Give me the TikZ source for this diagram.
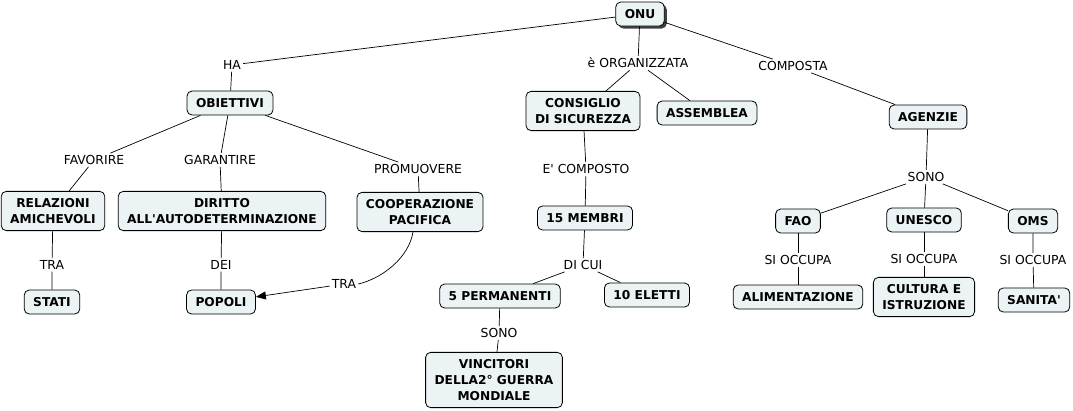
\documentclass[tikz,border=0pt]{standalone}
\usepackage{fontspec}
\setmainfont{DejaVu Sans}[Ligatures=TeXOff]
\usetikzlibrary{arrows.meta,shadows}
\definecolor{boxfill}{RGB}{236,243,245}
\tikzset{
  concept/.style={draw=black, fill=boxfill, rounded corners=5pt, line width=0.8pt,
    inner xsep=9pt, inner ysep=7pt, minimum height=24pt, align=center,
    font=\fontsize{12.2}{16}\selectfont\bfseries},
  lbl/.style={inner sep=2pt, font=\fontsize{12.4}{14}\selectfont},
  link/.style={draw=black, line width=0.7pt},
}
\begin{document}
\begin{tikzpicture}[x=1pt,y=-1pt]
\useasboundingbox (0,0) rectangle (1073,410);
% concepts
\node[concept, drop shadow={shadow xshift=2.5pt, shadow yshift=-2.5pt, fill=black!75, opacity=1}] (onu) at (640,14) {ONU};
\node[concept] (obiettivi) at (230,103) {OBIETTIVI};
\node[concept] (consiglio) at (583,111) {CONSIGLIO\\DI SICUREZZA};
\node[concept] (assemblea) at (707,113) {ASSEMBLEA};
\node[concept] (agenzie) at (928,117) {AGENZIE};
\node[concept] (relazioni) at (53,211) {RELAZIONI\\AMICHEVOLI};
\node[concept] (diritto) at (222,211) {DIRITTO\\ALL'AUTODETERMINAZIONE};
\node[concept] (coop) at (420,212) {COOPERAZIONE\\PACIFICA};
\node[concept] (membri) at (585,218) {15 MEMBRI};
\node[concept] (fao) at (798,221) {FAO};
\node[concept] (unesco) at (924,220) {UNESCO};
\node[concept] (oms) at (1033,221) {OMS};
\node[concept] (stati) at (52,302) {STATI};
\node[concept] (popoli) at (221,302) {POPOLI};
\node[concept] (perm) at (500,296) {5 PERMANENTI};
\node[concept] (eletti) at (647,295) {10 ELETTI};
\node[concept] (alim) at (798,297) {ALIMENTAZIONE};
\node[concept] (cultura) at (924,297) {CULTURA E\\ISTRUZIONE};
\node[concept] (sanita) at (1034,300) {SANITA'};
\node[concept] (vincitori) at (494,380) {VINCITORI\\DELLA2° GUERRA\\MONDIALE};
% labels
\node[lbl] (ha) at (232,65) {HA};
\node[lbl] (org) at (638,63) {è ORGANIZZATA};
\node[lbl] (composta) at (793,66) {COMPOSTA};
\node[lbl] (favorire) at (94,160) {FAVORIRE};
\node[lbl] (garantire) at (220,160) {GARANTIRE};
\node[lbl] (promuovere) at (418,169) {PROMUOVERE};
\node[lbl] (ecomposto) at (586,169) {E' COMPOSTO};
\node[lbl] (dicui) at (583,265) {DI CUI};
\node[lbl] (sonoA) at (926,177) {SONO};
\node[lbl] (sonoB) at (499,333) {SONO};
\node[lbl] (traA) at (52,265) {TRA};
\node[lbl] (dei) at (221,265) {DEI};
\node[lbl] (traB) at (344,284) {TRA};
\node[lbl] (occA) at (798,260) {SI OCCUPA};
\node[lbl] (occB) at (924,259) {SI OCCUPA};
\node[lbl] (occC) at (1033,260) {SI OCCUPA};
% connectors
\path[link] (onu) -- (ha) (ha) -- (obiettivi);
\path[link] (onu) -- (org) (org) -- (consiglio) (org) -- (assemblea);
\path[link] (onu) -- (composta) (composta) -- (agenzie);
\path[link] (obiettivi) -- (favorire) (favorire) -- (relazioni);
\path[link] (obiettivi) -- (garantire) (garantire) -- (diritto);
\path[link] (obiettivi) -- (promuovere) (promuovere) -- (coop);
\path[link] (relazioni) -- (traA) (traA) -- (stati);
\path[link] (diritto) -- (dei) (dei) -- (popoli);
\path[link] ([xshift=-7pt]coop.south) .. controls +(-4,25) and +(25,-6) .. (traB.east);
\path[link, -{Triangle[length=10pt,width=8pt]}] (traB) -- (popoli);
\path[link] (consiglio) -- (ecomposto) (ecomposto) -- (membri);
\path[link] (membri) -- (dicui) (dicui) -- (perm) (dicui) -- (eletti);
\path[link] (perm) -- (sonoB) (sonoB) -- (vincitori);
\path[link] (agenzie) -- (sonoA) (sonoA) -- (fao) (sonoA) -- (unesco) (sonoA) -- (oms);
\path[link] (fao) -- (occA) (occA) -- (alim);
\path[link] (unesco) -- (occB) (occB) -- (cultura);
\path[link] (oms) -- (occC) (occC) -- (sanita);
\end{tikzpicture}
\end{document}
